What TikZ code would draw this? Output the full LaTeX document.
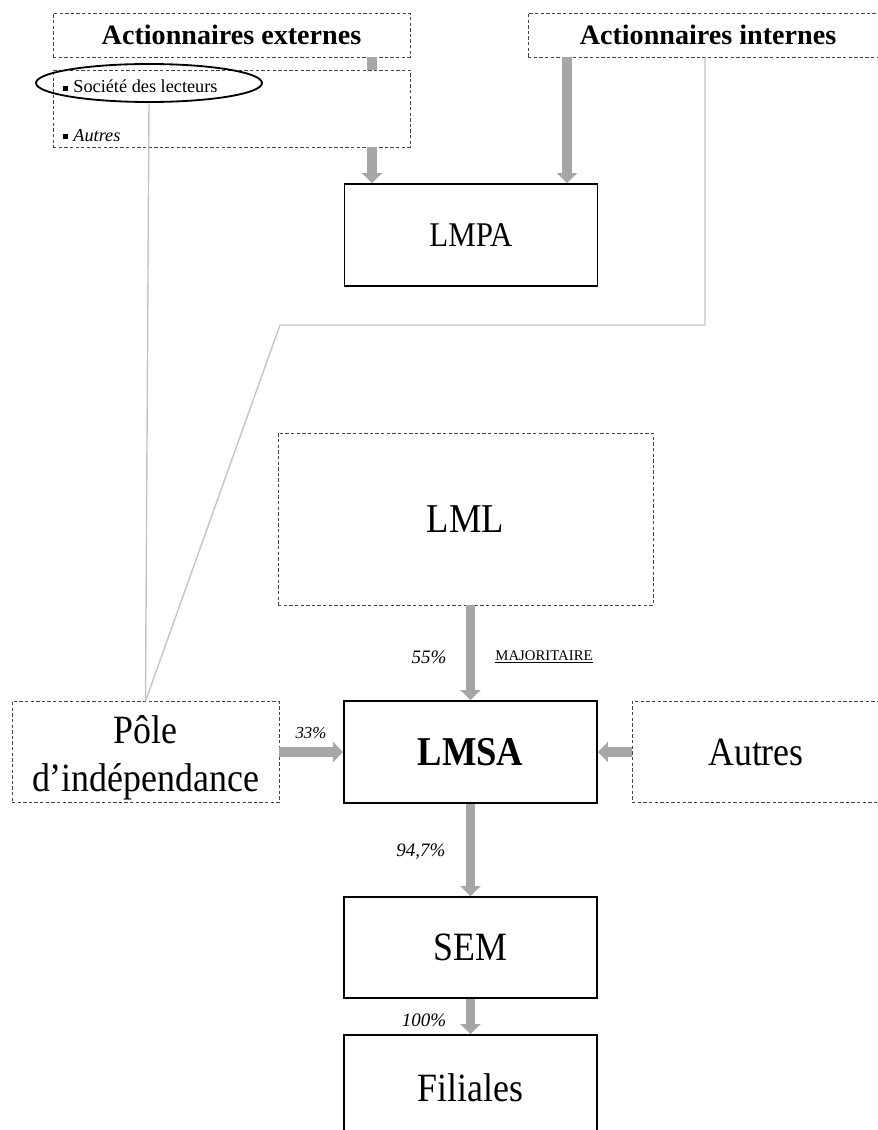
\documentclass[tikz,border=0pt]{standalone}
\usepackage{graphicx}
\usepackage{fontspec}
\setmainfont{Liberation Serif}
\usetikzlibrary{arrows.meta,shapes.geometric}
\definecolor{flowgray}{RGB}{166,166,166}
\definecolor{linkgray}{RGB}{196,196,196}
\definecolor{dashgray}{RGB}{70,70,70}
\newcommand{\bul}{\rule[0.25ex]{3.4pt}{3.4pt}\hspace{4pt}}
\newcommand{\tall}[1]{\scalebox{1}[1.12]{#1}}

\begin{document}
\begin{tikzpicture}[
		x=0.025cm, y=-0.025cm,
		holder/.style={draw=dashgray, line width=0.6pt, dash pattern=on 2.4pt off 1.6pt, inner sep=0pt},
		firm/.style={draw, line width=1.4pt, inner sep=0pt},
		flow/.style={draw=flowgray, line width=7pt, -{Triangle[width=14pt, length=7pt]}},
		stub/.style={draw=flowgray, line width=7pt},
		link/.style={draw=linkgray, line width=1pt},
		pct/.style={font=\fontsize{13.5}{14}\selectfont\itshape},
		big/.style={font=\fontsize{25.5}{34}\selectfont},
	]
		\useasboundingbox (0,0) rectangle (877,1130);

		\node[holder, minimum width=357*0.025cm, minimum height=44*0.025cm, font=\fontsize{20}{22}\selectfont\bfseries] (ext) at (231.5,35) {Actionnaires externes};
		\node[holder, minimum width=357*0.025cm, minimum height=77*0.025cm] (extsub) at (231.5,108.5) {};
		\node[holder, minimum width=360*0.025cm, minimum height=44*0.025cm, font=\fontsize{20}{22}\selectfont\bfseries] (intl) at (708,35) {Actionnaires internes};

		\node[anchor=base west, font=\fontsize{13}{14}\selectfont] (soc) at (58,93) {\bul Société des lecteurs};
		\node[anchor=base west, font=\fontsize{13}{14}\selectfont] (oth) at (58,141) {\bul\textit{Autres}};
		\node[ellipse, draw, line width=1.3pt, minimum width=226*0.025cm, minimum height=38*0.025cm] (socring) at (149,83) {};

		\node[firm, minimum width=253*0.025cm, minimum height=102*0.025cm, font=\fontsize{22}{26}\selectfont] (lmpa) at (471,235) {\tall{LMPA}};
		\node[holder, minimum width=375*0.025cm, minimum height=172*0.025cm, font=\fontsize{26}{30}\selectfont] (lml) at (465.5,519) {\tall{LML}};

		\node[firm, minimum width=253*0.025cm, minimum height=102*0.025cm, font=\fontsize{26}{30}\selectfont\bfseries] (lmsa) at (470.5,752) {\tall{LMSA}};
		\node[holder, minimum width=267*0.025cm, minimum height=101*0.025cm] (pole) at (145.5,752) {};
		\node[big, align=center, inner sep=0pt] (poletext) at (145.5,758) {\tall{Pôle}\\\tall{d’indépendance}};
		\node[holder, big, minimum width=248*0.025cm, minimum height=101*0.025cm] (autres) at (756,752) {\tall{Autres}};

		\node[firm, big, minimum width=253*0.025cm, minimum height=101*0.025cm] (sem) at (470.5,947.5) {\tall{SEM}};
		\node[firm, big, minimum width=253*0.025cm, minimum height=106*0.025cm] (filiales) at (470.5,1088) {\tall{Filiales}};

		\coordinate (xe) at (372,0);
		\coordinate (xi) at (567,0);
		\coordinate (xl) at (705,0);
		\coordinate (kink) at (280,325);

		\draw[link] (socring.south) -- (pole.north);
		\draw[link] (intl.south -| xl) |- (kink) -- (pole.north);

		\draw[stub] (ext.south -| xe) -- (extsub.north -| xe);
		\draw[flow] (extsub.south -| xe) -- (lmpa.north -| xe);
		\draw[flow] (intl.south -| xi) -- (lmpa.north -| xi);
		\draw[flow] (lml.south -| lmsa.north) -- (lmsa.north);
		\draw[flow] (pole.east) -- (lmsa.west);
		\draw[flow] (autres.west) -- (lmsa.east);
		\draw[flow] (lmsa.south) -- (sem.north);
		\draw[flow] (sem.south) -- (filiales.north);

		\node[pct] (p55) at (429,657) {55\%};
		\node[font=\fontsize{10.5}{12}\selectfont] (maj) at (544,657) {\underline{MAJORITAIRE}};
		\node[pct, font=\fontsize{12}{13}\selectfont\itshape] (p33) at (311,733) {33\%};
		\node[pct] (p947) at (421,852) {94,7\%};
		\node[pct] (p100) at (424,1020) {100\%};
	\end{tikzpicture}
\end{document}
